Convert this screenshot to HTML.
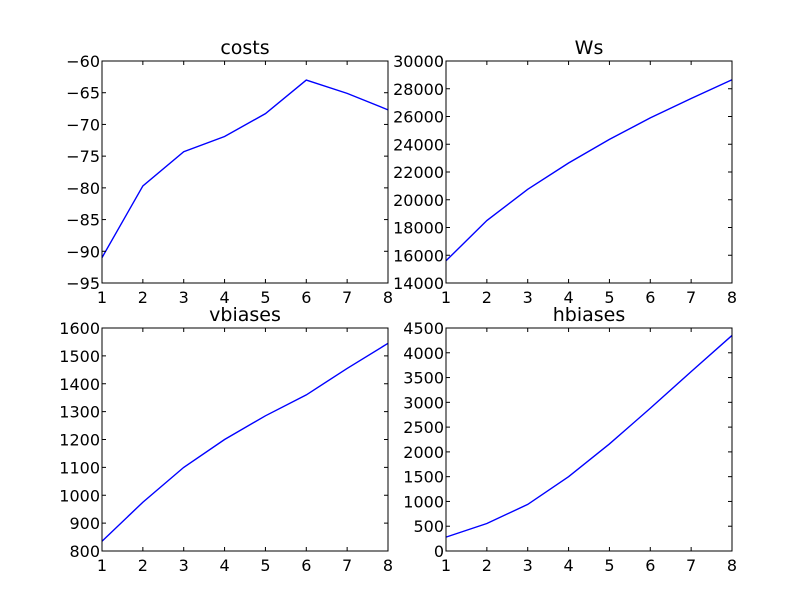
<!DOCTYPE html>
<html><head><meta charset="utf-8"><style>
body{margin:0;background:#fff;}
svg{display:block;font-family:"DejaVu Sans","Liberation Sans",sans-serif;}
</style></head><body>
<svg id="fig" width="812" height="612"></svg>
<script>
const xCats=[1,2,3,4,5,6,7,8];
const costsVals=[-91,-79.7,-74.3,-71.9,-68.3,-63,-65.1,-67.7];
const wsVals=[15600,18500,20750,22650,24350,25900,27300,28650];
const vbVals=[835,975,1100,1200,1285,1360,1455,1545];
const hbVals=[280,555,940,1500,2160,2880,3620,4350];
const costsTicks=[-95,-90,-85,-80,-75,-70,-65,-60];
const wsTicks=[14000,16000,18000,20000,22000,24000,26000,28000,30000];
const vbTicks=[800,900,1000,1100,1200,1300,1400,1500,1600];
const hbTicks=[0,500,1000,1500,2000,2500,3000,3500,4000,4500];
const NS="http://www.w3.org/2000/svg";
const svg=document.getElementById('fig');
function mk(t,a,p){const e=document.createElementNS(NS,t);for(const k in a)e.setAttribute(k,a[k]);(p||svg).appendChild(e);return e;}
const panels=[
 {name:'costs',vals:costsVals,ticks:costsTicks,x0:102,x1:388,y0:61,y1:283},
 {name:'Ws',vals:wsVals,ticks:wsTicks,x0:446,x1:732,y0:61,y1:283},
 {name:'vbiases',vals:vbVals,ticks:vbTicks,x0:102,x1:388,y0:328,y1:551},
 {name:'hbiases',vals:hbVals,ticks:hbTicks,x0:446,x1:732,y0:328,y1:551}
];
panels.forEach(p=>{
 const g=mk('g',{});
 
 
 const xmin=xCats[0],xmax=xCats[xCats.length-1];
 const ymin=p.ticks[0],ymax=p.ticks[p.ticks.length-1];
 const sx=v=>p.x0+(v-xmin)/(xmax-xmin)*(p.x1-p.x0);
 const sy=v=>p.y1-(v-ymin)/(ymax-ymin)*(p.y1-p.y0);
 const line=mk('polyline',{points:p.vals.map((v,i)=>sx(xCats[i])+','+sy(v)).join(' '),fill:'none',stroke:'#0000ff','stroke-width':1.4},g);
 
 
 xCats.forEach(c=>{
  const x=sx(c);
  mk('line',{x1:x,x2:x,y1:p.y1,y2:p.y1-4,stroke:'#000'},g);
  mk('line',{x1:x,x2:x,y1:p.y0,y2:p.y0+4,stroke:'#000'},g);
  const t=mk('text',{x:x,y:p.y1+20,'text-anchor':'middle','font-size':16},g);
  t.textContent=c;
  
  
 });
 p.ticks.forEach(v=>{
  const y=sy(v);
  mk('line',{x1:p.x0,x2:p.x0+4,y1:y,y2:y,stroke:'#000'},g);
  mk('line',{x1:p.x1,x2:p.x1-4,y1:y,y2:y,stroke:'#000'},g);
  const t=mk('text',{x:p.x0-2,y:y+6,'text-anchor':'end','font-size':16},g);
  t.textContent=String(v).replace('-','\u2212');
  
  
 });
 const fr=mk('rect',{x:p.x0,y:p.y0,width:p.x1-p.x0,height:p.y1-p.y0,fill:'none',stroke:'#000','stroke-width':1},g);
 
 
 const tt=mk('text',{x:(p.x0+p.x1)/2,y:p.y0-7,'text-anchor':'middle','font-size':19},g);
 tt.textContent=p.name;
 
 
});
</script>
</body></html>
